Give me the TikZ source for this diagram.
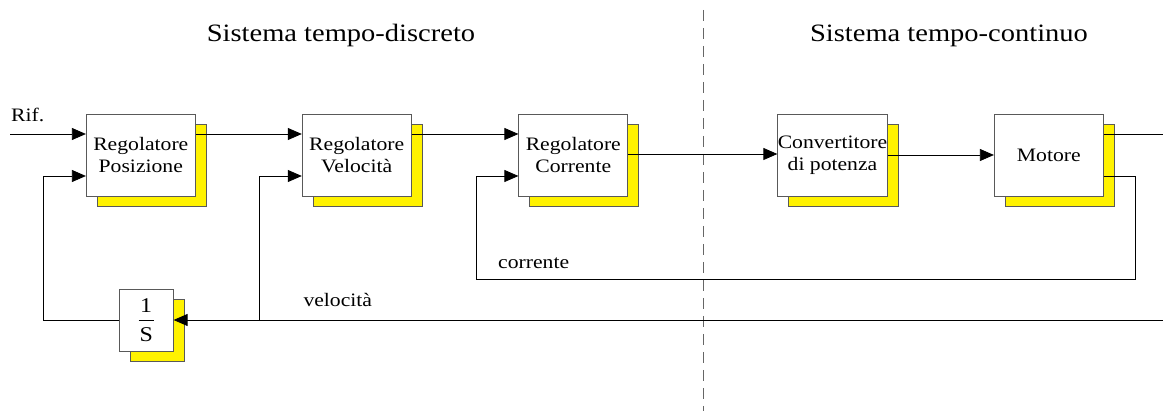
\documentclass[tikz,border=0pt]{standalone}
\usepackage{fontspec}
\setmainfont[FakeStretch=1.14]{Liberation Serif}
\usetikzlibrary{arrows.meta,shadows}
\begin{document}
\begin{tikzpicture}[x=1pt,y=-1pt,
  blk/.style={draw=black!65, fill=white, line width=0.8pt, minimum width=109pt, minimum height=82pt,
    inner sep=0pt, align=center, font=\fontsize{19}{22}\selectfont,
    copy shadow={shadow xshift=11pt, shadow yshift=-10pt, fill=yellow, draw=black!65}},
  ln/.style={draw=black, line width=0.8pt},
  arr/.style={ln, -{Triangle[length=14pt,width=12pt]}},
  lbl/.style={font=\fontsize{19}{22}\selectfont, anchor=base west, inner sep=0pt},
  ttl/.style={font=\fontsize{25}{28}\selectfont, anchor=base, inner sep=0pt}]
\useasboundingbox (0,0) rectangle (1163,411);
% divider
\draw[draw=black!60, line width=0.8pt, dash pattern=on 11pt off 7pt] (703,10) -- (703,411);
% titles
\node[ttl] (t1) at (341,41.7) {Sistema tempo-discreto};
\node[ttl] (t2) at (949,41.7) {Sistema tempo-continuo};
% blocks
\node[blk] (b1) at (140.8,155) {Regolatore\\Posizione};
\node[blk] (b2) at (356.7,155) {Regolatore\\Velocità};
\node[blk] (b3) at (573.3,155) {Regolatore\\Corrente};
\node[blk] (b4) at (832.5,155) {Convertitore\\di potenza};
\node[blk] (b5) at (1048.8,155) {Motore};
\node[blk, minimum width=54pt, minimum height=62pt, font=\fontsize{21}{24}\selectfont] (s) at (146.2,320)
  {\hbox{1}\\[-9pt]\rule[6pt]{15pt}{1.8pt}\\[-10pt]\hbox{S}};
% coordinates
\coordinate (rif) at (10,134);
\coordinate (out) at (1163,134);
\coordinate (c1) at (1135,279);
\coordinate (c2) at (476,279);
\coordinate (vr) at (1163,320);
\coordinate (vj) at (259,320);
\coordinate (pl) at (43,320);
% connectors
\draw[arr] (rif) -- ([yshift=21pt]b1.west);
\draw[arr] ([yshift=21pt]b1.east) -- ([yshift=21pt]b2.west);
\draw[arr] ([yshift=21pt]b2.east) -- ([yshift=21pt]b3.west);
\draw[arr] ([yshift=1pt]b3.east) -- ([yshift=1pt]b4.west);
\draw[arr] (b4.east) -- (b5.west);
\draw[ln] ([yshift=21pt]b5.east) -- (out);
\draw[arr] ([yshift=-21pt]b5.east) -| (c1) -- (c2) |- ([yshift=-21pt]b3.west);
\draw[arr] (vr) -- (s.east);
\draw[arr] (vj) |- ([yshift=-21pt]b2.west);
\draw[arr] (s.west) -- (pl) |- ([yshift=-21pt]b1.west);
% labels
\node[lbl] (lrif) at (11,122) {Rif.};
\node[lbl] (lcor) at (498,268.3) {corrente};
\node[lbl] (lvel) at (303.3,307) {velocità};
\end{tikzpicture}
\end{document}
